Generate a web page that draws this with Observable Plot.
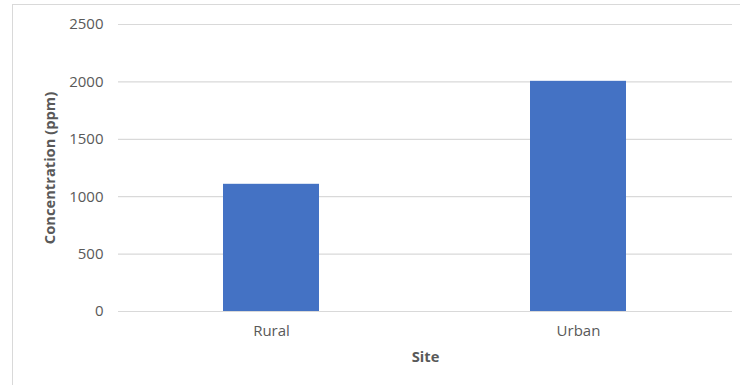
<!DOCTYPE html>
<html><head><meta charset="utf-8">
<script src="https://cdn.jsdelivr.net/npm/d3@7"></script>
<script src="https://cdn.jsdelivr.net/npm/@observablehq/plot@0.6"></script>
<style>
html,body{margin:0;padding:0;background:#fff;width:740px;height:385px;overflow:hidden}
#wrap{position:relative;width:740px;height:385px}
#box{position:absolute;left:12px;top:4px;width:740px;height:400px;border:1.5px solid #d9d9d9;box-sizing:border-box}
#chart{position:absolute;left:0;top:0}
</style></head><body>
<div id="wrap"><div id="box"></div><div id="chart"></div></div>
<script>
const sites = ["Rural", "Urban"];
const concentrations = [1108, 2005];
const yTicks = [0, 500, 1000, 1500, 2000, 2500];

const data = sites.map((s, i) => ({site: s, value: concentrations[i]}));
const font = "'Open Sans', sans-serif";

const chart = Plot.plot({
  width: 740, height: 385,
  marginLeft: 118, marginRight: 8, marginTop: 24, marginBottom: 74,
  style: {fontFamily: font, fontSize: "15px", color: "#595959", background: "transparent"},
  x: {domain: sites, paddingInner: 0.687, paddingOuter: 0.3435, label: null},
  y: {domain: [0, 2500], ticks: yTicks, label: null},
  marks: [
    Plot.gridY(yTicks, {stroke: "#d9d9d9", strokeOpacity: 1, strokeWidth: 1.2}),
    Plot.barY(data, {x: "site", y: "value", fill: "#4472c4"}),
    Plot.axisY(yTicks, {tickSize: 0, tickPadding: 15, fill: "#595959", fontSize: 15, tickFormat: d => String(d)}),
    Plot.axisX({tickSize: 0, tickPadding: 14, fill: "#595959", fontSize: 15}),
    Plot.text(["Concentration (ppm)"], {frameAnchor: "left", textAnchor: "middle", dx: -68, dy: 0, rotate: -90, fontWeight: "bold", fill: "#595959", fontSize: 14.7}),
    Plot.text(["Site"], {frameAnchor: "bottom", dy: 50, fontWeight: "bold", fill: "#595959", fontSize: 14.7})
  ]
});
document.getElementById("chart").appendChild(chart);
</script>
</body></html>
